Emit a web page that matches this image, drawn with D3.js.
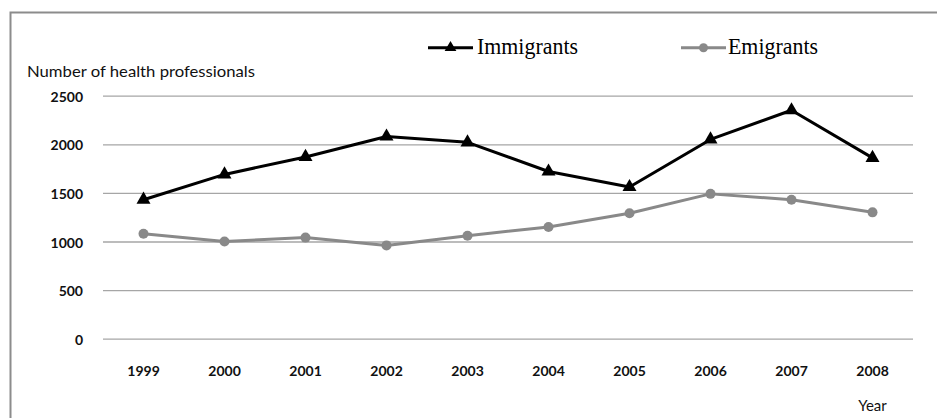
<!DOCTYPE html>
<html>
<head>
<meta charset="utf-8">
<script src="https://cdn.jsdelivr.net/npm/d3@7"></script>
<style>
  html, body { margin: 0; padding: 0; background: #fff; }
  svg { display: block; }
</style>
</head>
<body>
<svg id="chart" width="937" height="418"></svg>
<script>
// Health professionals moving in and out, 1999-2008
const years = ["1999", "2000", "2001", "2002", "2003", "2004", "2005", "2006", "2007", "2008"];
const immigrants = [1430, 1690, 1870, 2080, 2020, 1720, 1560, 2050, 2350, 1860];
const emigrants = [1080, 1000, 1040, 960, 1060, 1150, 1290, 1490, 1430, 1300];
const yTicks = [0, 500, 1000, 1500, 2000, 2500];
const seriesNames = ["Immigrants", "Emigrants"];

const svg = d3.select("#chart");
const W = 937, H = 418;
const plot = { left: 103, right: 913, top: 95.7, bottom: 338.7 };

const x = d3.scaleBand().domain(years).range([plot.left, plot.right]).padding(0);
const y = d3.scaleLinear().domain([0, 2500]).range([plot.bottom, plot.top]);
const cx = d => x(d) + x.bandwidth() / 2;

const labelFont = "Lato, 'Open Sans', sans-serif";
const serifFont = "'Liberation Serif', 'DejaVu Serif', serif";
const black = "#000";
const gray = "#898989";

// outer frame
svg.append("path")
  .attr("d", `M10.5,${H} L10.5,12.5 L${W},12.5`)
  .attr("fill", "none")
  .attr("stroke", "#8c8c8c")
  .attr("stroke-width", 2);

// horizontal gridlines + y tick labels
const yAxis = d3.axisLeft(y).tickValues(yTicks).tickFormat(d3.format("d"))
  .tickSize(-(plot.right - plot.left)).tickPadding(20);
const gy = svg.append("g").attr("transform", `translate(${plot.left},0)`).call(yAxis);
gy.select(".domain").remove();
gy.selectAll(".tick line").attr("stroke", "#a6a6a6").attr("stroke-width", 1.3);
gy.selectAll(".tick text")
  .attr("x", 83 - plot.left)
  .attr("dy", "0.4em")
  .attr("font-family", labelFont)
  .attr("font-weight", "bold")
  .attr("font-size", 14)
  .attr("fill", "#111");

// x category labels
const xAxis = d3.axisBottom(x).tickSize(0).tickPadding(0);
const gx = svg.append("g").attr("transform", `translate(0,${plot.bottom})`).call(xAxis);
gx.select(".domain").remove();
gx.selectAll(".tick text")
  .attr("y", 37.5)
  .attr("dy", 0)
  .attr("font-family", labelFont)
  .attr("font-weight", "bold")
  .attr("font-size", 14)
  .attr("fill", "#111");

// axis titles
svg.append("text")
  .attr("x", 27).attr("y", 77)
  .attr("font-family", labelFont)
  .attr("font-size", 15)
  .attr("fill", "#111")
  .attr("textLength", 228)
  .attr("lengthAdjust", "spacingAndGlyphs")
  .text("Number of health professionals");

svg.append("text")
  .attr("x", cx("2008")).attr("y", 411)
  .attr("text-anchor", "middle")
  .attr("font-family", labelFont)
  .attr("font-size", 15)
  .attr("fill", "#111")
  .text("Year");

// series lines
const line = d3.line().x((d, i) => cx(years[i])).y(d => y(d));

svg.append("path")
  .datum(emigrants)
  .attr("d", line)
  .attr("fill", "none")
  .attr("stroke", gray)
  .attr("stroke-width", 3)
  .attr("stroke-linejoin", "round");

svg.selectAll("circle.emi")
  .data(emigrants)
  .join("circle")
  .attr("class", "emi")
  .attr("cx", (d, i) => cx(years[i]))
  .attr("cy", d => y(d))
  .attr("r", 5)
  .attr("fill", gray);

svg.append("path")
  .datum(immigrants)
  .attr("d", line)
  .attr("fill", "none")
  .attr("stroke", black)
  .attr("stroke-width", 3)
  .attr("stroke-linejoin", "round");

const tri = d3.symbol().type(d3.symbolTriangle).size(85);
svg.selectAll("path.imm")
  .data(immigrants)
  .join("path")
  .attr("class", "imm")
  .attr("d", tri)
  .attr("transform", (d, i) => `translate(${cx(years[i])},${y(d)})`)
  .attr("fill", black);

// legend
const legend = [
  { name: seriesNames[0], x0: 428, x1: 473, color: black, marker: "tri", textX: 477, textW: 101 },
  { name: seriesNames[1], x0: 681, x1: 726, color: gray, marker: "circle", textX: 728, textW: 90 }
];
const ly = 47.7;
legend.forEach(l => {
  const g = svg.append("g");
  g.append("line")
    .attr("x1", l.x0).attr("x2", l.x1)
    .attr("y1", ly).attr("y2", ly)
    .attr("stroke", l.color).attr("stroke-width", 3);
  const mx = (l.x0 + l.x1) / 2;
  if (l.marker === "tri") {
    g.append("path").attr("d", d3.symbol().type(d3.symbolTriangle).size(60)())
      .attr("transform", `translate(${mx},${ly})`).attr("fill", l.color);
  } else {
    g.append("circle").attr("cx", mx).attr("cy", ly).attr("r", 4.5).attr("fill", l.color);
  }
  g.append("text")
    .attr("x", l.textX).attr("y", 54.3)
    .attr("font-family", serifFont)
    .attr("font-size", 23)
    .attr("fill", "#000")
    .attr("textLength", l.textW)
    .attr("lengthAdjust", "spacingAndGlyphs")
    .text(l.name);
});
</script>
</body>
</html>
